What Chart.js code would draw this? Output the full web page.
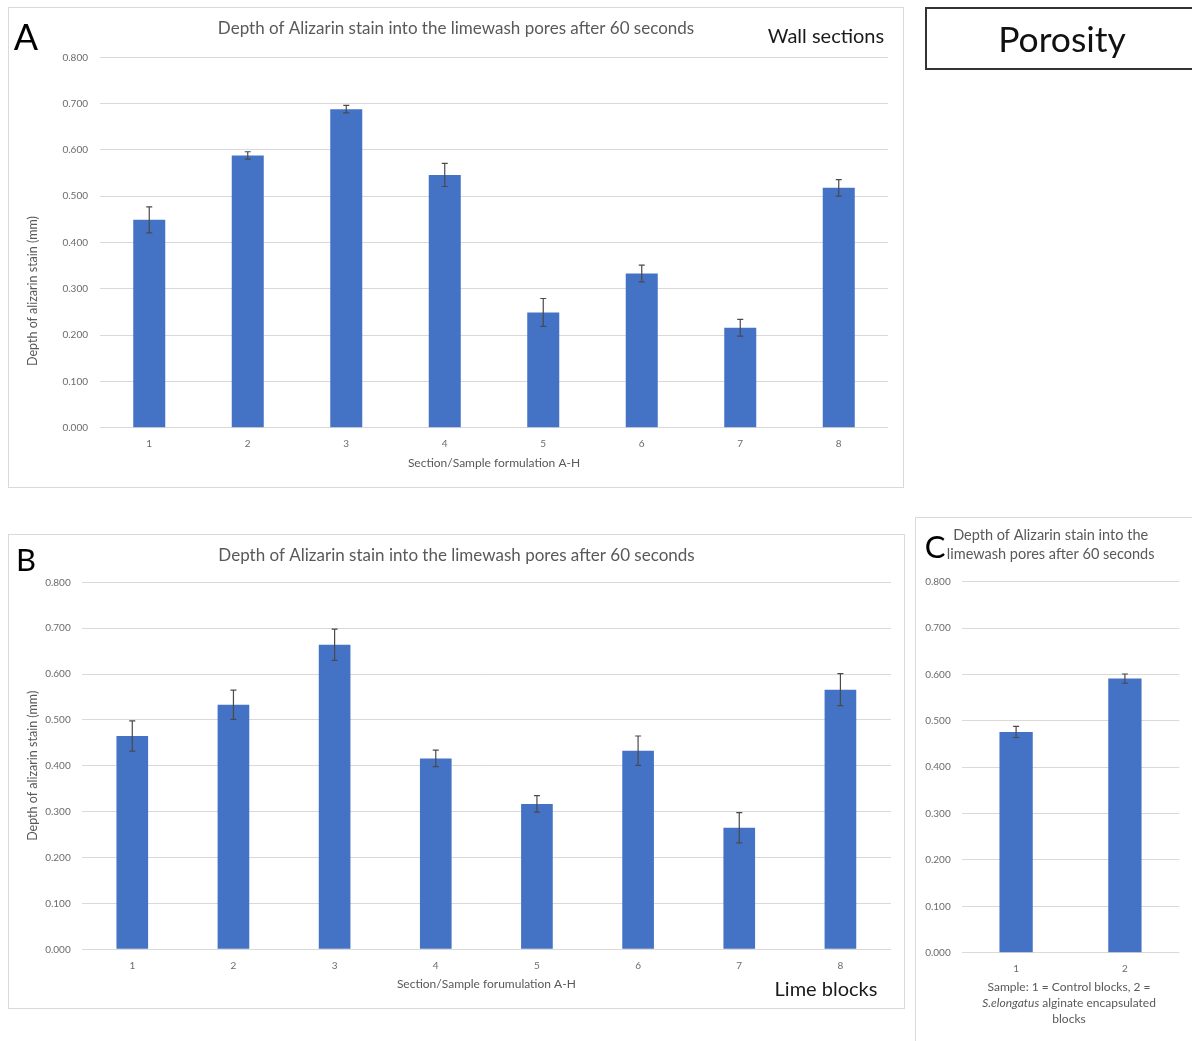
<!DOCTYPE html>
<html>
<head>
<meta charset="utf-8">
<script src="https://cdn.jsdelivr.net/npm/chart.js@4/dist/chart.umd.min.js"></script>
<style>
  html, body { margin: 0; padding: 0; background: #fff; width: 1192px; height: 1041px; overflow: hidden;
    font-family: Lato, "Open Sans", sans-serif; }
  .frame { position: absolute; box-sizing: border-box; border: 1px solid #d9d9d9; }
  canvas { position: absolute; }
  .txt { position: absolute; white-space: nowrap; transform: translate(-50%, -50%); line-height: 1; }
  .panel { color: #000; }
  .note { color: #1a1a1a; }
  .axis { color: #595959; }
</style>
</head>
<body>

<!-- Panel A: wall sections -->
<div class="frame" style="left:8px; top:7px; width:896px; height:481px;"></div>
<canvas id="wallChart" width="896" height="481" style="left:8px; top:7px;"></canvas>
<div class="txt panel" style="left:26px; top:36px; font-size:36px;">A</div>
<div class="txt note" style="left:826px; top:35px; font-size:20px;">Wall sections</div>
<div class="txt axis" style="left:33px; top:291px; font-size:12.5px; transform:translate(-50%,-50%) rotate(-90deg);">Depth of alizarin stain (mm)</div>

<!-- Heading box -->
<div style="position:absolute; left:925px; top:7px; width:320px; height:63px; box-sizing:border-box; border:2px solid #333;"></div>
<div class="txt" style="left:1062px; top:39px; font-size:35.5px; color:#111;">Porosity</div>

<!-- Panel B: lime blocks -->
<div class="frame" style="left:8px; top:534px; width:897px; height:475px;"></div>
<canvas id="blockChart" width="897" height="475" style="left:8px; top:534px;"></canvas>
<div class="txt panel" style="left:26px; top:559px; font-size:31px;">B</div>
<div class="txt note" style="left:826px; top:988px; font-size:20px;">Lime blocks</div>

<!-- Panel C: control vs encapsulated -->
<div class="frame" style="left:915px; top:517px; width:320px; height:600px;"></div>
<canvas id="treatChart" width="277" height="524" style="left:915px; top:517px;"></canvas>
<div class="txt panel" style="left:935px; top:546px; font-size:31px;">C</div>
<div class="txt axis" style="left:1069px; top:987px; font-size:12px;">Sample: 1 = Control blocks, 2 =</div>
<div class="txt axis" style="left:1069px; top:1003px; font-size:12px;"><i>S.elongatus</i> alginate encapsulated</div>
<div class="txt axis" style="left:1069px; top:1019px; font-size:12px;">blocks</div>

<script>
// ---- data ----
const sampleLabels = ['1', '2', '3', '4', '5', '6', '7', '8'];
const wallDepth = [0.449, 0.588, 0.688, 0.546, 0.249, 0.333, 0.216, 0.518];
const wallError = [0.028, 0.008, 0.008, 0.025, 0.030, 0.018, 0.018, 0.018];
const blockDepth = [0.465, 0.533, 0.664, 0.416, 0.317, 0.433, 0.265, 0.566];
const blockError = [0.033, 0.032, 0.034, 0.018, 0.018, 0.032, 0.033, 0.035];
const treatmentLabels = ['1', '2'];
const treatmentDepth = [0.476, 0.591];
const treatmentError = [0.012, 0.010];
const depthMin = 0;
const depthMax = 0.8;
const depthStep = 0.1;

const chartTitle = 'Depth of Alizarin stain into the limewash pores after 60 seconds';
const chartTitleLines = ['Depth of Alizarin stain into the', 'limewash pores after 60 seconds'];
const wallAxisTitle = 'Section/Sample formulation A-H';
const blockAxisTitle = 'Section/Sample forumulation A-H';
const depthAxisTitle = 'Depth of alizarin stain (mm)';

const FONT = 'Lato, "Open Sans", sans-serif';
const BAR_BLUE = '#4472c4';
const GRID = '#d9d9d9';
const LABEL = '#6b6b6b';

// draws +/- error whiskers on each bar from dataset.errors
const errorBars = {
  id: 'errorBars',
  afterDatasetsDraw(chart) {
    const ctx = chart.ctx;
    const y = chart.scales.y;
    chart.data.datasets.forEach((ds, i) => {
      if (!ds.errors) return;
      const meta = chart.getDatasetMeta(i);
      ctx.save();
      ctx.strokeStyle = '#4a4a4a';
      ctx.lineWidth = 1.2;
      meta.data.forEach((bar, j) => {
        const v = ds.data[j], e = ds.errors[j];
        const top = y.getPixelForValue(v + e);
        const bot = y.getPixelForValue(v - e);
        const x = bar.x, cap = 3;
        ctx.beginPath();
        ctx.moveTo(x, top); ctx.lineTo(x, bot);
        ctx.moveTo(x - cap, top); ctx.lineTo(x + cap, top);
        ctx.moveTo(x - cap, bot); ctx.lineTo(x + cap, bot);
        ctx.stroke();
      });
      ctx.restore();
    });
  }
};

function depthChart(id, labels, values, errors, o) {
  return new Chart(document.getElementById(id), {
    type: 'bar',
    data: {
      labels: labels,
      datasets: [{
        data: values,
        errors: errors,
        backgroundColor: BAR_BLUE,
        borderWidth: 0,
        barPercentage: o.barPct,
        categoryPercentage: 1
      }]
    },
    options: {
      responsive: false,
      animation: false,
      events: [],
      layout: { padding: { left: o.padLeft, right: o.padRight, top: 0, bottom: 0 } },
      plugins: {
        legend: { display: false },
        tooltip: { enabled: false },
        title: {
          display: true,
          text: o.title,
          color: '#595959',
          font: { family: FONT, size: o.titleSize, weight: 'normal', lineHeight: o.titleLH },
          padding: { top: o.titleTop, bottom: o.titleBottom }
        }
      },
      scales: {
        x: {
          grid: { display: false },
          border: { display: false },
          ticks: { color: LABEL, font: { family: FONT, size: 10 }, padding: 2 },
          title: {
            display: !!o.xTitle,
            text: o.xTitle,
            color: '#595959',
            font: { family: FONT, size: 12 },
            padding: { top: 0, bottom: o.xTitlePad }
          },
          afterFit: s => { s.height = o.xHeight; }
        },
        y: {
          min: depthMin,
          max: depthMax,
          grid: { color: GRID, lineWidth: 1, drawTicks: false },
          border: { display: false },
          ticks: {
            stepSize: depthStep,
            color: LABEL,
            font: { family: FONT, size: 10 },
            padding: o.yTickPad,
            callback: v => Number(v).toFixed(3)
          },
          title: {
            display: !!o.yTitle,
            text: o.yTitle,
            color: '#595959',
            font: { family: FONT, size: 12.5 },
            padding: { top: o.yTitlePad, bottom: 0 }
          },
          afterFit: s => { s.width = o.yWidth; }
        }
      }
    },
    plugins: [errorBars]
  });
}

depthChart('wallChart', sampleLabels, wallDepth, wallError, {
  barPct: 0.325, padLeft: 16, padRight: 16, title: chartTitle, titleSize: 17, titleLH: 1.2,
  titleTop: 11.3, titleBottom: 18.6, xTitle: wallAxisTitle, xTitlePad: 18.1,
  xHeight: 60.3, yTickPad: 12, yWidth: 76, yTitle: ''
});

depthChart('blockChart', sampleLabels, blockDepth, blockError, {
  barPct: 0.313, padLeft: 14, padRight: 14, title: chartTitle, titleSize: 17, titleLH: 1.2,
  titleTop: 11.3, titleBottom: 16.6, xTitle: blockAxisTitle, xTitlePad: 17.8,
  xHeight: 59.7, yTickPad: 11, yWidth: 59.7, yTitle: depthAxisTitle, yTitlePad: 3.5
});

depthChart('treatChart', treatmentLabels, treatmentDepth, treatmentError, {
  barPct: 0.306, padLeft: 7, padRight: 12.7, title: chartTitleLines, titleSize: 14.5, titleLH: 1.31,
  titleTop: 8.5, titleBottom: 18.2, xTitle: '', xTitlePad: 0,
  xHeight: 88.3, yTickPad: 11, yWidth: 39.7, yTitle: ''
});
</script>
</body>
</html>
